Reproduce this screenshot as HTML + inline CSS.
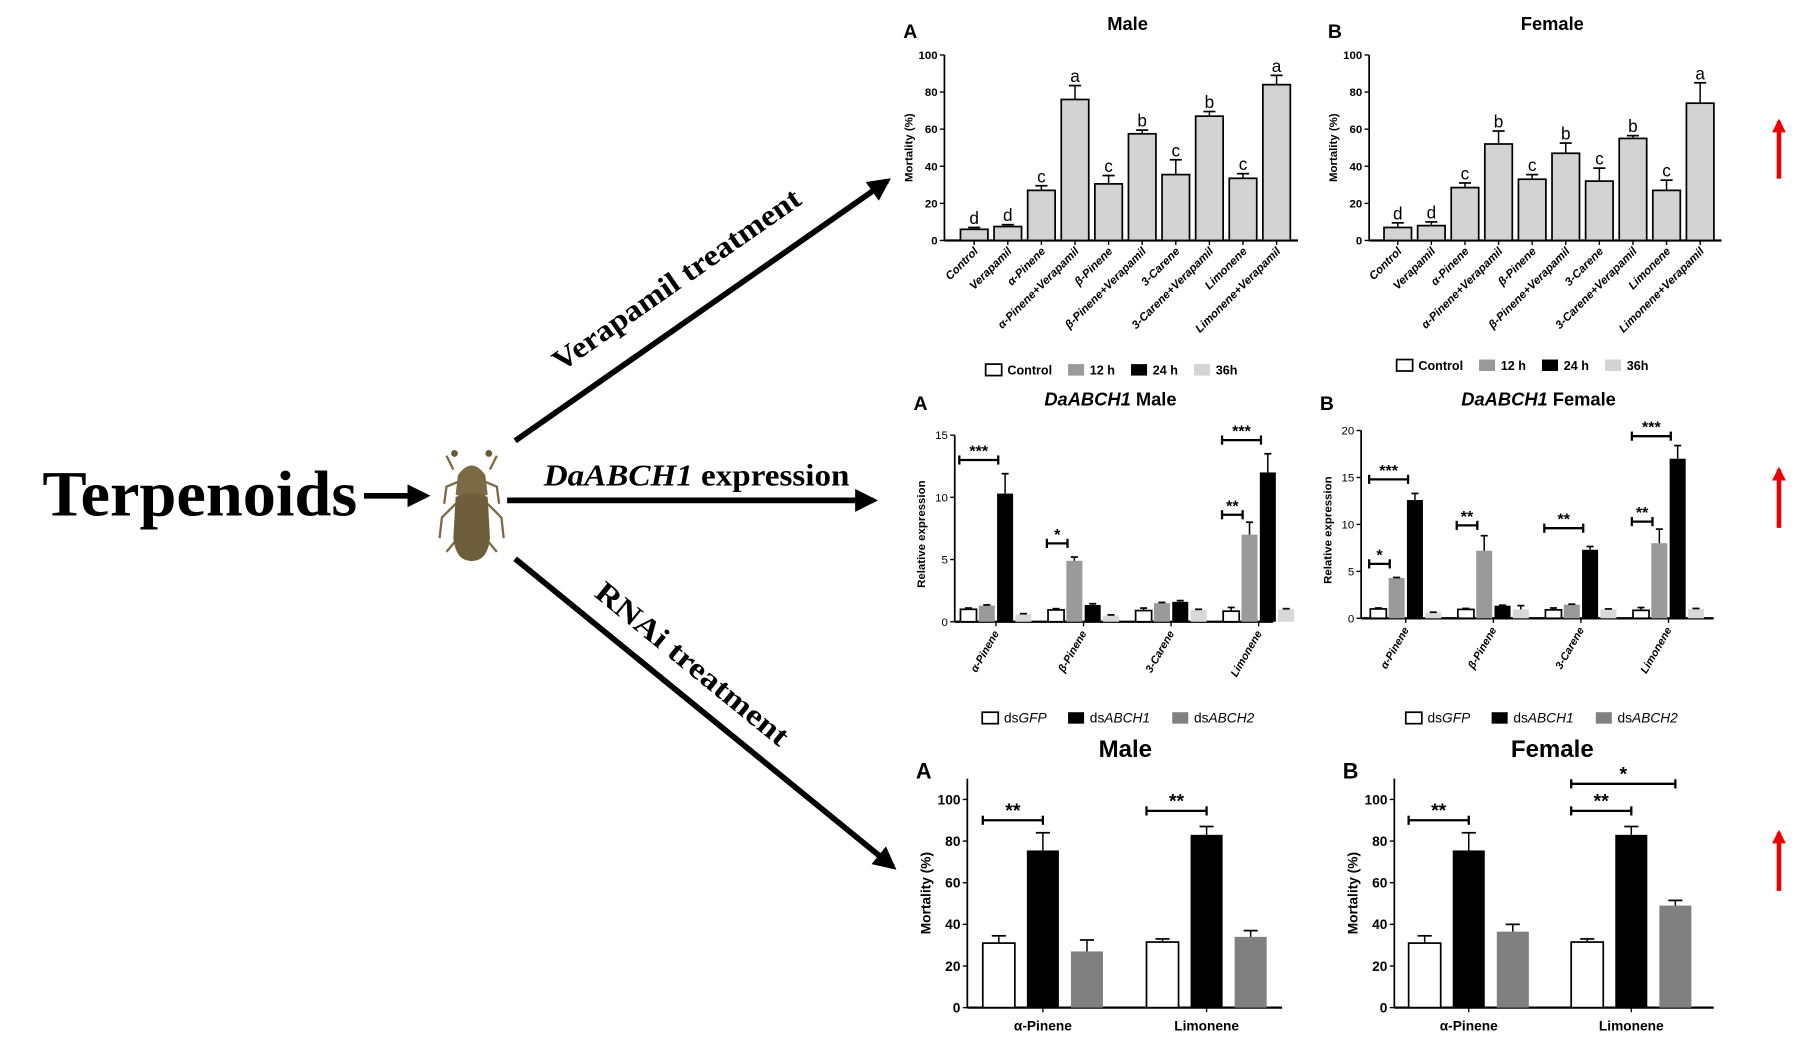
<!DOCTYPE html>
<html><head><meta charset="utf-8">
<style>
html,body{margin:0;padding:0;background:#fff;}
svg{display:block;}
text{font-family:"Liberation Sans",sans-serif;}
.serif{font-family:"Liberation Serif",serif;}
</style></head>
<body>
<svg id="fig" width="1795" height="1050" viewBox="0 0 1568 917" preserveAspectRatio="none" xmlns="http://www.w3.org/2000/svg">
<rect width="1568" height="917" fill="#fff"/>
<defs>
<marker id="ah" viewBox="0 0 10 10" refX="8" refY="5" markerWidth="4" markerHeight="4" orient="auto"><path d="M0,0 L10,5 L0,10 z" fill="#000"/></marker>
<marker id="ahr" viewBox="0 0 10 10" refX="8" refY="5" markerWidth="3" markerHeight="3" orient="auto"><path d="M0,0 L10,5 L0,10 z" fill="#e00"/></marker>
</defs>
<g>
<text class="serif" x="37" y="450" font-size="56" font-weight="bold" textLength="275" lengthAdjust="spacingAndGlyphs">Terpenoids</text>
<line x1="318" y1="433" x2="372" y2="433" stroke="#000" stroke-width="5" marker-end="url(#ah)"/>
<g>
<g stroke="#7a6a45" stroke-width="2" fill="none">
<path d="M396,410 L390,398 M428,410 L434,398 M398,440 L386,452 L384,470 M426,440 L438,452 L440,470 M400,470 L390,482 M424,470 L434,482 M402,420 L390,425 L388,440 M422,420 L434,425 L436,440"/>
</g>
<circle cx="397" cy="396" r="3" fill="#6a5a35"/><circle cx="427" cy="396" r="3" fill="#6a5a35"/>
<path d="M400,415 Q412,398 424,415 L426,432 Q412,438 398,432 Z" fill="#7a6a45"/>
<path d="M398,434 Q412,428 426,434 L428,470 Q426,490 412,490 Q398,490 396,470 Z" fill="#6e5e3c"/>
</g>
<line x1="450" y1="385" x2="775" y2="158" stroke="#000" stroke-width="5" marker-end="url(#ah)"/>
<text class="serif" transform="translate(490,325) rotate(-34.9)" font-size="26" font-weight="bold" textLength="258" lengthAdjust="spacingAndGlyphs">Verapamil treatment</text>
<line x1="443" y1="437" x2="763" y2="437" stroke="#000" stroke-width="5" marker-end="url(#ah)"/>
<text class="serif" x="475" y="424" font-size="27" font-weight="bold" textLength="267" lengthAdjust="spacingAndGlyphs"><tspan font-style="italic">DaABCH1</tspan> expression</text>
<line x1="450" y1="488" x2="780" y2="757" stroke="#000" stroke-width="5" marker-end="url(#ah)"/>
<text class="serif" transform="translate(518,520) rotate(39.2)" font-size="26" font-weight="bold" textLength="210" lengthAdjust="spacingAndGlyphs">RNAi treatment</text>
<line x1="1554" y1="156" x2="1554" y2="106" stroke="#e00" stroke-width="4" marker-end="url(#ahr)"/>
<line x1="1554" y1="461" x2="1554" y2="410" stroke="#e00" stroke-width="4" marker-end="url(#ahr)"/>
<line x1="1554" y1="778" x2="1554" y2="727" stroke="#e00" stroke-width="4" marker-end="url(#ahr)"/>
</g>
<g id="charts"></g>
</svg>
<script>
// Row 1: verapamil mortality
const vCats = ["Control","Verapamil","α-Pinene","α-Pinene+Verapamil","β-Pinene","β-Pinene+Verapamil","3-Carene","3-Carene+Verapamil","Limonene","Limonene+Verapamil"];
const vMale = [6,7.5,27,76,30.5,57.5,35.5,67,33.5,84];
const vMaleErr = [1,1,2.5,7.5,4.5,2,8,2.5,2.5,5];
const vMaleLetters = ["d","d","c","a","c","b","c","b","c","a"];
const vFemale = [7,8,28.5,52,33,47,32,55,27,74];
const vFemaleErr = [2.5,2,2.5,7,2.5,5.5,7,1.5,5.5,11];
const vFemaleLetters = ["d","d","c","b","c","b","c","b","c","a"];
const vTicks = [0,20,40,60,80,100];
// Row 2: relative expression
const eCats = ["α-Pinene","β-Pinene","3-Carene","Limonene"];
const eMaleCtrl = [1.0,0.95,0.9,0.85];
const eMaleCtrlErr = [0.1,0.1,0.2,0.3];
const eMale12 = [1.3,4.9,1.5,7.0];
const eMale12Err = [0.05,0.3,0.05,1.0];
const eMale24 = [10.3,1.35,1.6,12.0];
const eMale24Err = [1.6,0.1,0.1,1.5];
const eMale36 = [0.6,0.5,0.95,1.0];
const eMale36Err = [0.05,0.05,0.05,0.05];
const eMaleTicks = [0,5,10,15];
const eFemCtrl = [1.0,0.95,0.9,0.85];
const eFemCtrlErr = [0.1,0.1,0.2,0.3];
const eFem12 = [4.3,7.2,1.45,8.0];
const eFem12Err = [0.05,1.6,0.05,1.5];
const eFem24 = [12.6,1.35,7.3,17.0];
const eFem24Err = [0.7,0.05,0.35,1.4];
const eFem36 = [0.6,0.95,0.95,1.0];
const eFem36Err = [0.05,0.4,0.05,0.05];
const eFemTicks = [0,5,10,15,20];
// Row 3: RNAi mortality
const rCats = ["α-Pinene","Limonene"];
const rMaleGFP = [31,31.5];
const rMaleGFPErr = [3.5,1.5];
const rMaleA1 = [75.5,83];
const rMaleA1Err = [8.5,4];
const rMaleA2 = [27,34];
const rMaleA2Err = [5.5,3];
const rFemGFP = [31,31.5];
const rFemGFPErr = [3.5,1.5];
const rFemA1 = [75.5,83];
const rFemA1Err = [8.5,4];
const rFemA2 = [36.5,49];
const rFemA2Err = [3.5,2.5];
const rTicks = [0,20,40,60,80,100];

const NS="http://www.w3.org/2000/svg";
const root=document.getElementById('charts');
function mk(tag,attrs,parent,text){const e=document.createElementNS(NS,tag);for(const k in attrs)e.setAttribute(k,attrs[k]);if(text!==undefined)e.textContent=text;(parent||root).appendChild(e);return e;}
function yScale(y0,yTop,vmax){return v=>y0-(v/vmax)*(y0-yTop);}

function axes(g,ax,y0,yTop,xEnd,ticks,ys,fs,bold){
  const a=mk('line',{x1:ax,y1:y0,x2:ax,y2:yTop,stroke:'#000','stroke-width':1.5},g);
  
  
  const b=mk('line',{x1:ax,y1:y0,x2:xEnd,y2:y0,stroke:'#000','stroke-width':2},g);
  
  
  ticks.forEach(t=>{
    mk('line',{x1:ax-4,y1:ys(t),x2:ax,y2:ys(t),stroke:'#000','stroke-width':1.2},g);
    const tl=mk('text',{x:ax-6,y:ys(t)+fs*0.35,'font-size':fs,'text-anchor':'end','font-weight':bold?'bold':'normal'},g,t);
    
    
  });
}
function bar(g,cx,w,v,err,ys,fill,stroke,name){
  const r=mk('rect',{x:cx-w/2,y:ys(v),width:w,height:ys(0)-ys(v),fill:fill,stroke:stroke,'stroke-width':stroke==='none'?0:1.5},g);
  
  
  if(err>0){mk('line',{x1:cx,y1:ys(v),x2:cx,y2:ys(v+err),stroke:'#000','stroke-width':1.3},g);
  mk('line',{x1:cx-w*0.22,y1:ys(v+err),x2:cx+w*0.22,y2:ys(v+err),stroke:'#000','stroke-width':1.5},g);}
}
function sig(g,x1,x2,y,stars,fs){
  mk('line',{x1:x1,y1:y,x2:x2,y2:y,stroke:'#000','stroke-width':2},g);
  mk('line',{x1:x1,y1:y-4,x2:x1,y2:y+4,stroke:'#000','stroke-width':2},g);
  mk('line',{x1:x2,y1:y-4,x2:x2,y2:y+4,stroke:'#000','stroke-width':2},g);
  const s=mk('text',{x:(x1+x2)/2,y:y-3,'font-size':fs,'text-anchor':'middle','font-weight':'bold'},g,stars);
  
  
}
function legendItem(g,x,y,fill,stroke,label,fs,italicPart){
  const r=mk('rect',{x:x,y:y-9,width:14,height:10,fill:fill,stroke:stroke,'stroke-width':stroke==='none'?0:1.5},g);
  
  
  const t=mk('text',{x:x+19,y:y,'font-size':fs,'font-weight':italicPart===undefined?'bold':'normal'},g);
  
  
  if(italicPart!==undefined){mk('tspan',{},t,label);mk('tspan',{'font-style':'italic'},t,italicPart);} else t.textContent=label;
}

// Verapamil panels
function vPanel(name,letter,title,ax,firstCx,vals,errs,letters,legendX,legendY){
  const g=mk('g',{});
  
  
  const y0=210,yTop=48,ys=yScale(y0,yTop,100),step=29.35,w=24;
  const L=mk('text',{x:ax-36,y:33,'font-size':17,'font-weight':'bold'},g,letter);
  
  
  const T=mk('text',{x:ax+160,y:26,'font-size':16,'font-weight':'bold','text-anchor':'middle'},g,title);
  
  
  axes(g,ax,y0,yTop,firstCx+step*9.5+4,vTicks,ys,10,true);
  const yt=mk('text',{transform:`translate(${ax-28},${(y0+yTop)/2}) rotate(-90)`,'font-size':10,'font-weight':'bold','text-anchor':'middle'},g,'Mortality (%)');
  
  
  vCats.forEach((c,i)=>{
    const cx=firstCx+i*step;
    bar(g,cx,w,vals[i],errs[i],ys,'#d3d3d3','#000','bar-'+i);
    const lt=mk('text',{x:cx,y:ys(vals[i]+errs[i])-3,'font-size':15,'text-anchor':'middle'},g,letters[i]);
    
    
    mk('line',{x1:cx,y1:y0,x2:cx,y2:y0+4,stroke:'#000','stroke-width':1.2},g);
    const xl=mk('text',{transform:`translate(${cx+4},${y0+10}) rotate(-45)`,'font-size':10,'font-weight':'bold','font-style':'italic','text-anchor':'end'},g,c);
    
    
  });
  legendItem(g,legendX,legendY,'#fff','#000','Control',11);
  legendItem(g,legendX+72,legendY,'#9a9a9a','none','12 h',11);
  legendItem(g,legendX+127,legendY,'#000','none','24 h',11);
  legendItem(g,legendX+182,legendY,'#d3d3d3','none','36h',11);
}
vPanel('male-verapamil-chart','A','Male',825,851,vMale,vMaleErr,vMaleLetters,861,327);
vPanel('female-verapamil-chart','B','Female',1196,1221,vFemale,vFemaleErr,vFemaleLetters,1220,323);

// Expression panels
function ePanel(name,letter,ax,y0,yTop,vmax,ticks,firstCx,xEnd,sets,errsets,sigs,legendX,titleX,isFemale){
  const g=mk('g',{});
  
  
  const ys=yScale(y0,yTop,vmax),gstep=76.5,bstep=16,w=14;
  const L=mk('text',{x:ax-36,y:358,'font-size':17,'font-weight':'bold'},g,letter);
  
  
  const T=mk('text',{x:titleX,y:354,'font-size':16,'font-weight':'bold','text-anchor':'middle'},g);
  
  
  mk('tspan',{'font-style':'italic'},T,'DaABCH1');mk('tspan',{},T,isFemale?' Female':' Male');
  axes(g,ax,y0,yTop,xEnd,ticks,ys,10,false);
  const yt=mk('text',{transform:`translate(${ax-26},${(y0+yTop)/2+5}) rotate(-90)`,'font-size':10,'font-weight':'bold','text-anchor':'middle'},g,'Relative expression');
  
  
  const fills=['#fff','#9a9a9a','#000','#d8d8d8'],strokes=['#000','none','none','none'];
  eCats.forEach((c,i)=>{
    const base=firstCx+i*gstep;
    sets.forEach((s,k)=>bar(g,base+k*bstep,w,s[i],errsets[k][i],ys,fills[k],strokes[k],'bar-'+i+'-'+k));
    const mid=base+1.5*bstep;
    mk('line',{x1:mid,y1:y0,x2:mid,y2:y0+4,stroke:'#000','stroke-width':1.2},g);
    const xl=mk('text',{transform:`translate(${mid+3},${y0+10}) rotate(-60)`,'font-size':9.5,'font-weight':'bold','font-style':'italic','text-anchor':'end'},g,c);
    
    
  });
  sigs.forEach(s=>{const base=firstCx+s[0]*gstep;sig(g,base+s[1]*bstep-8,base+s[2]*bstep-6,ys(s[3]),s[4],14);});
  legendItem(g,legendX,631,'#fff','#000','ds',12,'GFP');
  legendItem(g,legendX+75,631,'#000','none','ds',12,'ABCH1');
  legendItem(g,legendX+166,631,'#808080','none','ds',12,'ABCH2');
}
ePanel('male-expression-chart','A',834,543,380,15,eMaleTicks,846,1112,[eMaleCtrl,eMale12,eMale24,eMale36],[eMaleCtrlErr,eMale12Err,eMale24Err,eMale36Err],
  [[0,0,2,13,'***'],[1,0,1,6.3,'*'],[3,0,1,8.6,'**'],[3,0,2,14.6,'***']],858,970,false);
ePanel('female-expression-chart','B',1189,540,376,20,eFemTicks,1204,1497,[eFemCtrl,eFem12,eFem24,eFem36],[eFemCtrlErr,eFem12Err,eFem24Err,eFem36Err],
  [[0,0,1,5.8,'*'],[0,0,2,14.8,'***'],[1,0,1,9.9,'**'],[2,0,2,9.6,'**'],[3,0,1,10.3,'**'],[3,0,2,19.4,'***']],1228,1344,true);

// RNAi panels
function rPanel(name,letter,title,ax,xEnd,centers,sets,errsets,sigs){
  const g=mk('g',{});
  
  
  const y0=880,yTop=680,ys=yScale(y0,yTop,110),w=28,bstep=38.5;
  const L=mk('text',{x:ax-45,y:680,'font-size':19,'font-weight':'bold'},g,letter);
  
  
  const T=mk('text',{x:ax+138,y:661,'font-size':21,'font-weight':'bold','text-anchor':'middle'},g,title);
  
  
  axes(g,ax,y0,yTop,xEnd,rTicks,ys,12,true);
  const yt=mk('text',{transform:`translate(${ax-32},${(y0+yTop)/2}) rotate(-90)`,'font-size':12,'font-weight':'bold','text-anchor':'middle'},g,'Mortality (%)');
  
  
  const fills=['#fff','#000','#808080'],strokes=['#000','none','none'];
  rCats.forEach((c,i)=>{
    const mid=centers[i];
    sets.forEach((s,k)=>bar(g,mid+(k-1)*bstep,w,s[i],errsets[k][i],ys,fills[k],strokes[k],'bar-'+i+'-'+k));
    mk('line',{x1:mid,y1:y0,x2:mid,y2:y0+4,stroke:'#000','stroke-width':1.2},g);
    const xl=mk('text',{x:mid,y:y0+20,'font-size':12,'font-weight':'bold','text-anchor':'middle'},g,c);
    
    
  });
  sigs.forEach(s=>{const mid=centers[s[0]];sig(g,mid+(s[1]-1)*bstep-14,mid+(s[2]-1)*bstep,ys(s[3]),s[4],17);});
}
rPanel('male-rnai-chart','A','Male',845,1120,[911,1054],[rMaleGFP,rMaleA1,rMaleA2],[rMaleGFPErr,rMaleA1Err,rMaleA2Err],
  [[0,0,1,90,'**'],[1,0,1,94.5,'**']]);
rPanel('female-rnai-chart','B','Female',1218,1497,[1283,1425],[rFemGFP,rFemA1,rFemA2],[rFemGFPErr,rFemA1Err,rFemA2Err],
  [[0,0,1,90,'**'],[1,0,1,94.5,'**'],[1,0,2,107.5,'*']]);
</script>
</body></html>
